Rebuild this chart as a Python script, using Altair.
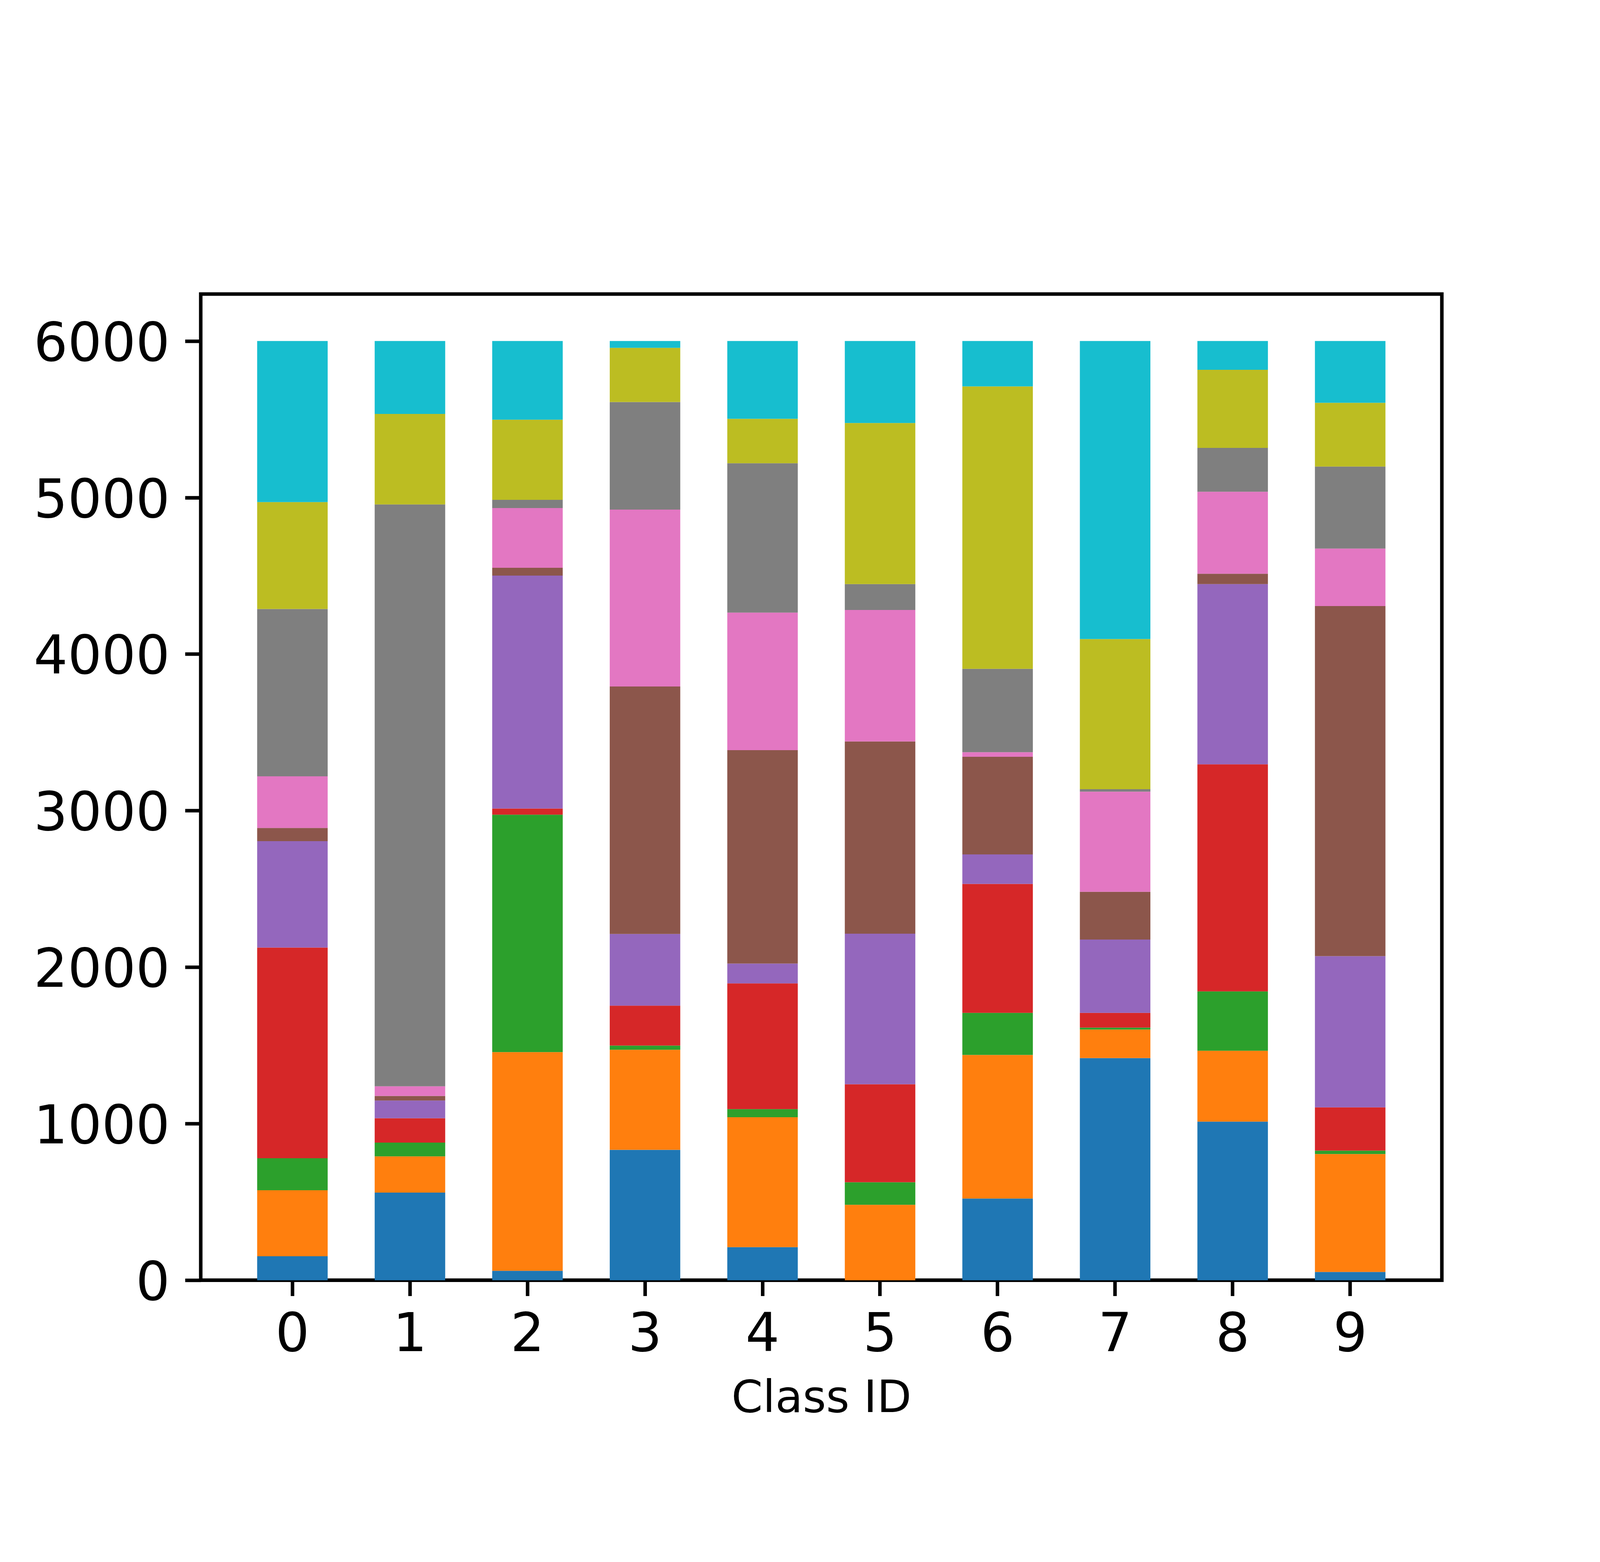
import altair as alt
import pandas as pd

classes = [0, 1, 2, 3, 4, 5, 6, 7, 8, 9]

series_names = ["c0", "c1", "c2", "c3", "c4", "c5", "c6", "c7", "c8", "c9"]
series_colors = ["#1f77b4", "#ff7f0e", "#2ca02c", "#d62728", "#9467bd",
                 "#8c564b", "#e377c2", "#7f7f7f", "#bcbd22", "#17becf"]

blue   = [153, 560, 60, 833, 211, 0, 522, 1419, 1013, 53]
orange = [422, 231, 1397, 639, 830, 482, 917, 182, 453, 753]
green  = [204, 88, 1517, 27, 52, 144, 269, 13, 379, 22]
red    = [1346, 156, 39, 255, 803, 626, 824, 94, 1451, 276]
purple = [680, 113, 1488, 458, 127, 962, 188, 468, 1151, 966]
brown  = [84, 29, 50, 1581, 1363, 1228, 624, 305, 66, 2237]
pink   = [330, 62, 382, 1130, 879, 840, 29, 640, 524, 367]
gray   = [1069, 3717, 52, 687, 954, 165, 533, 16, 280, 524]
olive  = [683, 578, 512, 346, 284, 1029, 1804, 959, 499, 407]
cyan   = [1029, 466, 503, 44, 497, 524, 290, 1904, 184, 395]

y_ticks = [0, 1000, 2000, 3000, 4000, 5000, 6000]

series_values = [blue, orange, green, red, purple, brown, pink, gray, olive, cyan]

rows = []
for si, (name, vals) in enumerate(zip(series_names, series_values)):
    for c, v in zip(classes, vals):
        rows.append({"class": c, "series": name, "idx": si, "count": v})
df = pd.DataFrame(rows)

FONT = "DejaVu Sans"

chart = alt.Chart(df).mark_bar(strokeWidth=0).encode(
    x=alt.X("class:O",
            scale=alt.Scale(paddingInner=0.4, paddingOuter=0.48),
            axis=alt.Axis(title="Class ID", labelAngle=0, labelPadding=40,
                          titlePadding=100)),
    y=alt.Y("count:Q", stack="zero",
            scale=alt.Scale(domain=[0, 6300], nice=False, zero=True),
            axis=alt.Axis(title=None, values=y_ticks, grid=False, labelPadding=48,
                          labelBaseline="middle", labelOffset=11, format="d")),
    color=alt.Color("series:N",
                    scale=alt.Scale(domain=series_names, range=series_colors),
                    legend=None),
    order=alt.Order("idx:Q", sort="ascending"),
).properties(
    width=3875,
    height=3080,
    padding={"left": 617, "top": 472, "right": 484, "bottom": 424},
    autosize=alt.AutoSizeParams(type="none"),
).configure_view(
    stroke="black", strokeWidth=11
).configure_axis(
    domain=False,
    ticks=True,
    tickSize=49,
    tickWidth=11,
    tickColor="black",
    labelFont=FONT,
    labelFontSize=167,
    labelColor="black",
    labelLimit=2000,
    titleFont=FONT,
    titleFontSize=140,
    titleFontWeight="normal",
    titleColor="black",
    grid=False,
)

chart.save("out.html", embed_options={"renderer": "svg", "actions": False})
